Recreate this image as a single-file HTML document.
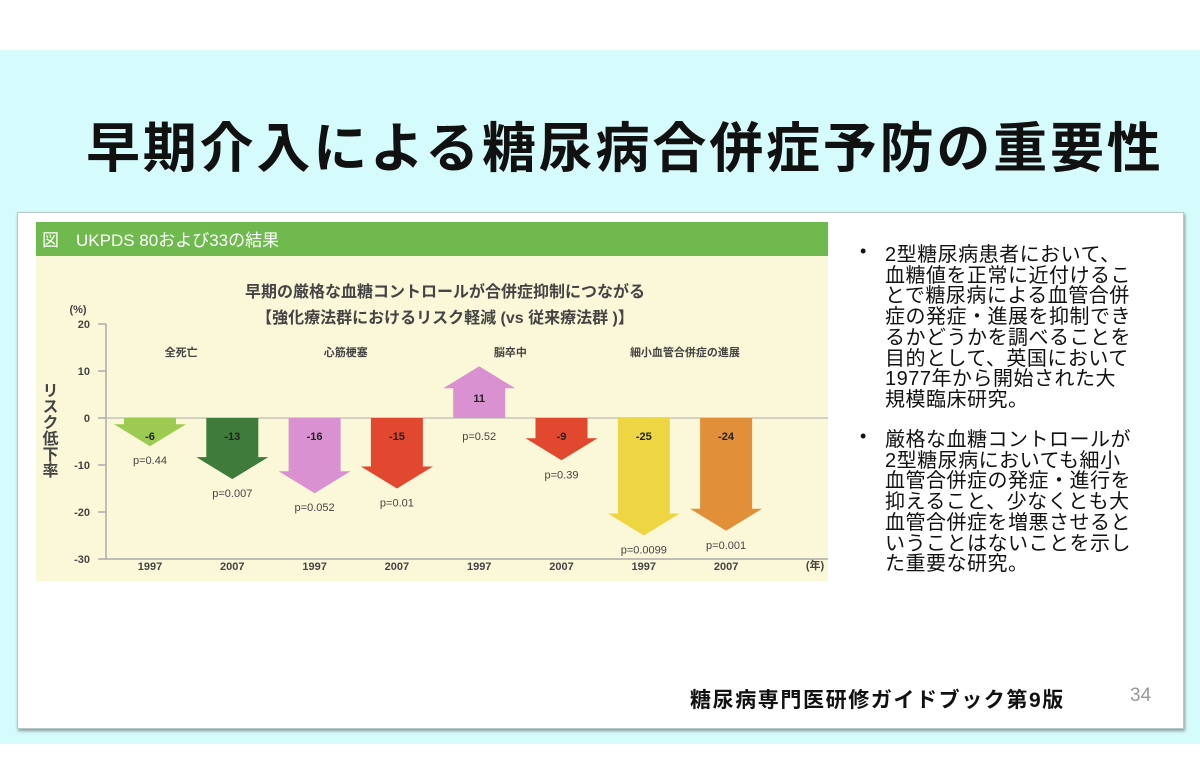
<!DOCTYPE html>
<html><head><meta charset="utf-8"><style>
body{margin:0;width:1200px;height:765px;background:#fff;position:relative;overflow:hidden;font-family:"Liberation Sans","Noto Sans CJK JP",sans-serif}
.band{position:absolute;left:0;top:50px;width:1200px;height:694px;background:#d6fbfc}
.title{position:absolute;left:86px;top:114px;font-size:54px;font-weight:bold;color:#111;letter-spacing:2.8px;white-space:nowrap;line-height:70px}
.card{position:absolute;left:17px;top:212px;width:1165px;height:515px;background:#fff;box-shadow:1px 2px 3px #8a9a9a;border:1px solid #b8c8c8}
.txt{position:absolute;font-size:20px;line-height:20.7px;color:#111;white-space:nowrap;letter-spacing:0.5px}
.bul{position:absolute;font-size:18px;color:#111}
</style></head><body>
<div class="band"></div>
<div class="title">早期介入による糖尿病合併症予防の重要性</div>
<div class="card"></div>
<svg id="chart" style="position:absolute;left:0;top:0" width="1200" height="765"></svg>
<div class="bul" style="left:860px;top:241px">•</div>
<div class="txt" style="left:885px;top:245px">2型糖尿病患者において、<br>血糖値を正常に近付けるこ<br>とで糖尿病による血管合併<br>症の発症・進展を抑制でき<br>るかどうかを調べることを<br>目的として、英国において<br>1977年から開始された大<br>規模臨床研究。</div>
<div class="bul" style="left:860px;top:426px">•</div>
<div class="txt" style="left:885px;top:430px">厳格な血糖コントロールが<br>2型糖尿病においても細小<br>血管合併症の発症・進行を<br>抑えること、少なくとも大<br>血管合併症を増悪させると<br>いうことはないことを示し<br>た重要な研究。</div>
<div style="position:absolute;left:690px;top:684px;font-size:21px;font-weight:bold;color:#111;white-space:nowrap;letter-spacing:1.6px">糖尿病専門医研修ガイドブック第9版</div>
<div style="position:absolute;left:1130px;top:685px;font-size:19px;color:#999">34</div>
<script>
const years=["1997","2007","1997","2007","1997","2007","1997","2007"];
const values=[-6,-13,-16,-15,11,-9,-25,-24];
const valueLabels=["-6","-13","-16","-15","11","-9","-25","-24"];
const pLabels=["p=0.44","p=0.007","p=0.052","p=0.01","p=0.52","p=0.39","p=0.0099","p=0.001"];
const colors=["#9dcb52","#3f7b3a","#d991d2","#e2482f","#d991d2","#e2482f","#eed643","#e28f3a"];
const categories=["全死亡","心筋梗塞","脳卒中","細小血管合併症の進展"];
const yTicks=[20,10,0,-10,-20,-30];
const NS="http://www.w3.org/2000/svg";
const svg=document.getElementById('chart');
function y(v){return 418-v*4.7;}
function x(i){return 150+i*82.3;}
function el(t,a,p){const e=document.createElementNS(NS,t);for(const k in a)e.setAttribute(k,a[k]);(p||svg).appendChild(e);return e;}
function tx(s,a){const e=el('text',Object.assign({'font-family':'"Liberation Sans","Noto Sans CJK JP",sans-serif'},a));e.textContent=s;return e;}
let r=el('rect',{x:36,y:222,width:792,height:34,fill:'#6fb94e'});

r=el('rect',{x:36,y:256,width:792,height:325,fill:'#fbf8d9'});

let t=tx('図　UKPDS 80および33の結果',{x:42,y:246,'font-size':17,fill:'#fff'});

t=tx('早期の厳格な血糖コントロールが合併症抑制につながる',{x:445,y:297,'font-size':16,'font-weight':'bold',fill:'#444','text-anchor':'middle'});

t=tx('【強化療法群におけるリスク軽減 (vs 従来療法群 )】',{x:445,y:323,'font-size':16,'font-weight':'bold',fill:'#444','text-anchor':'middle'});

let l=el('line',{x1:106,y1:y(20),x2:106,y2:y(-30),stroke:'#aaa','stroke-width':1.5});

l=el('line',{x1:106,y1:y(-30),x2:828,y2:y(-30),stroke:'#aaa','stroke-width':1.5});

l=el('line',{x1:106,y1:y(0),x2:828,y2:y(0),stroke:'#aaa','stroke-width':1});

yTicks.forEach(v=>{
  const tk=el('line',{x1:98,y1:y(v),x2:106,y2:y(v),stroke:'#aaa','stroke-width':1.5});
  
  const lb=tx(String(v),{x:90,y:y(v)+4,'font-size':11,'font-weight':'bold',fill:'#444','text-anchor':'end'});
  
});
t=tx('(%)',{x:78,y:313,'font-size':11,'font-weight':'bold',fill:'#444','text-anchor':'middle'});

t=tx('リスク低下率',{x:48,y:382,'font-size':16,'font-weight':'bold',fill:'#444','writing-mode':'tb'});

t=tx('(年)',{x:815,y:569,'font-size':11,'font-weight':'bold',fill:'#444','text-anchor':'middle'});

categories.forEach((c,k)=>{
  const cx=(x(2*k)+x(2*k+1))/2-((k==3)?0:10);
  const ct=tx(c,{x:cx,y:356,'font-size':11,'font-weight':'bold',fill:'#444','text-anchor':'middle'});
  
});
values.forEach((v,i)=>{
  const cx=x(i),y0=y(0),tip=y(v),dir=v<0?1:-1;
  let hs=tip-dir*22;
  if((hs-y0)*dir<0)hs=y0;
  const sw=26,hw=36;
  const pts=[[cx-sw,y0],[cx+sw,y0],[cx+sw,hs],[cx+hw,hs],[cx,tip],[cx-hw,hs],[cx-sw,hs]].map(p=>p.join(',')).join(' ');
  const a=el('polygon',{points:pts,fill:colors[i]});
  
  const vl=tx(valueLabels[i],{x:cx,y:v<0?y0+22:(tip+y0)/2+10,'font-size':11,'font-weight':'bold',fill:'#222','text-anchor':'middle'});
  
  const pl=tx(pLabels[i],{x:cx,y:v<0?tip+18:y0+22,'font-size':11,fill:'#444','text-anchor':'middle'});
  
  const yl=tx(years[i],{x:cx,y:570,'font-size':11,'font-weight':'bold',fill:'#444','text-anchor':'middle'});
  
});
</script>
</body></html>
